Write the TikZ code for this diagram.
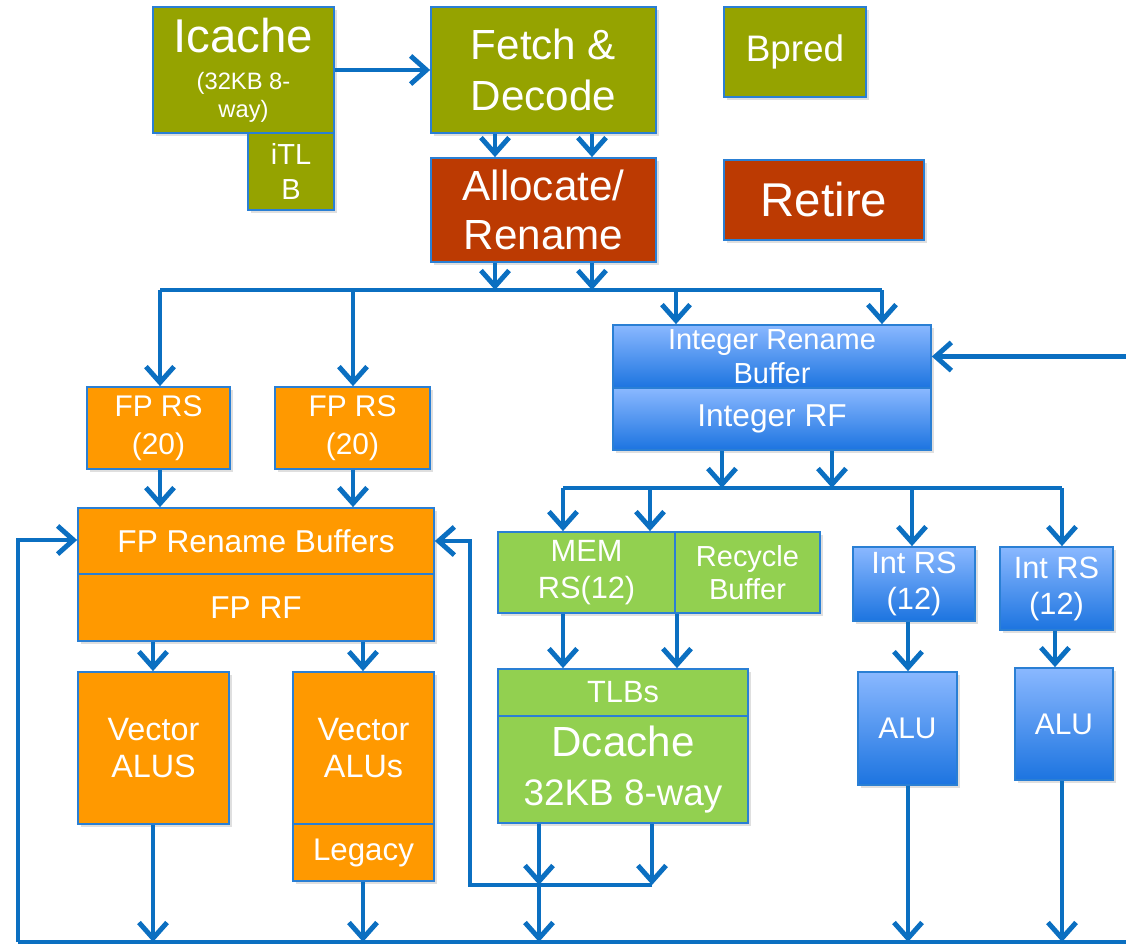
\documentclass[tikz,border=0pt]{standalone}
\usepackage{fontspec}
\setmainfont{Liberation Sans}
\usetikzlibrary{arrows.meta,shadows}
\definecolor{fetchgreen}{HTML}{95A300}
\definecolor{retirered}{HTML}{BC3A02}
\definecolor{fporange}{HTML}{FF9900}
\definecolor{memgreen}{HTML}{92D050}
\definecolor{inttop}{HTML}{8AB8FF}
\definecolor{intbot}{HTML}{1C74E0}
\definecolor{edgeblue}{HTML}{2A7FD4}
\definecolor{wireblue}{HTML}{0B6FC1}

\begin{document}
\begin{tikzpicture}[x=0.02cm,y=-0.02cm]
		\tikzset{unit/.style={draw=edgeblue,line width=1pt,fill=#1,text=white,align=center,inner sep=0pt,drop shadow={opacity=0.25,shadow xshift=1.5pt,shadow yshift=-1.5pt}}}
		\tikzset{intunit/.style={unit=intbot,top color=inttop,bottom color=intbot}}
		\tikzset{wire/.style={draw=wireblue,line width=2.8pt}}
		\tikzset{flow/.style={wire,-{Straight Barb[length=9pt,width=16pt]}}}
		\useasboundingbox (0,0) rectangle (1126,944);
		
		% front end
		\node [unit=fetchgreen,minimum width=3.62cm,minimum height=2.52cm,font=\fontsize{13.5}{16}\selectfont] (icache) at (243.5,70) {{\fontsize{27}{30}\selectfont Icache}\\[5pt](32KB 8-\\way)};
		\node [unit=fetchgreen,minimum width=1.72cm,minimum height=1.54cm,font=\fontsize{16.5}{20}\selectfont] (itlb) at (291,171.5) {iTL\\B};
		\node [unit=fetchgreen,minimum width=4.5cm,minimum height=2.52cm,font=\fontsize{24}{29}\selectfont] (fetch) at (543.5,70) {Fetch \&\\Decode};
		\node [unit=fetchgreen,minimum width=2.84cm,minimum height=1.8cm,font=\fontsize{21}{25}\selectfont] (bpred) at (795,52) {Bpred};
		\node [unit=retirered,minimum width=4.5cm,minimum height=2.08cm,font=\fontsize{24}{28}\selectfont] (alloc) at (543.5,210) {Allocate/\\Rename};
		\node [unit=retirered,minimum width=4cm,minimum height=1.6cm,font=\fontsize{27}{30}\selectfont] (retire) at (824,200) {Retire};
		
		% integer side
		\node [intunit,minimum width=6.36cm,minimum height=1.26cm,font=\fontsize{16.5}{19}\selectfont] (irb) at (772,356.5) {Integer Rename\\Buffer};
		\node [intunit,minimum width=6.36cm,minimum height=1.24cm,font=\fontsize{18}{21}\selectfont] (irf) at (772,419) {Integer RF};
		\node [intunit,minimum width=2.44cm,minimum height=1.48cm,font=\fontsize{17.5}{20.5}\selectfont] (intrs1) at (914,584) {Int RS\\(12)};
		\node [intunit,minimum width=2.26cm,minimum height=1.66cm,font=\fontsize{17.5}{20.5}\selectfont] (intrs2) at (1056.5,588.5) {Int RS\\(12)};
		\node [intunit,minimum width=1.98cm,minimum height=2.26cm,font=\fontsize{17}{20}\selectfont] (alu1) at (907.5,728.5) {ALU};
		\node [intunit,minimum width=1.96cm,minimum height=2.24cm,font=\fontsize{17}{20}\selectfont] (alu2) at (1064,724) {ALU};
		
		% memory side
		\node [unit=memgreen,minimum width=3.54cm,minimum height=1.62cm,font=\fontsize{17.5}{21.5}\selectfont] (memrs) at (586.5,572.5) {MEM\\RS(12)};
		\node [unit=memgreen,minimum width=2.9cm,minimum height=1.62cm,font=\fontsize{16.5}{19}\selectfont] (recycle) at (747.5,572.5) {Recycle\\Buffer};
		\node [unit=memgreen,minimum width=5cm,minimum height=0.94cm,font=\fontsize{17.5}{20}\selectfont] (tlbs) at (623,692.5) {TLBs};
		\node [unit=memgreen,minimum width=5cm,minimum height=2.14cm,font=\fontsize{21}{28}\selectfont] (dcache) at (623,769.5) {{\fontsize{24}{28}\selectfont Dcache}\\32KB 8-way};
		
		% fp side
		\node [unit=fporange,minimum width=2.86cm,minimum height=1.64cm,font=\fontsize{17}{22}\selectfont] (fprs1) at (158.5,428) {FP RS\\(20)};
		\node [unit=fporange,minimum width=3.1cm,minimum height=1.64cm,font=\fontsize{17}{22}\selectfont] (fprs2) at (352.5,428) {FP RS\\(20)};
		\node [unit=fporange,minimum width=7.12cm,minimum height=1.32cm,font=\fontsize{18}{21}\selectfont] (fprb) at (256,541) {FP Rename Buffers};
		\node [unit=fporange,minimum width=7.12cm,minimum height=1.34cm,font=\fontsize{18}{21}\selectfont] (fprf) at (256,607.5) {FP RF};
		\node [unit=fporange,minimum width=3.02cm,minimum height=3.04cm,font=\fontsize{18.4}{21.5}\selectfont] (valu1) at (153.5,748) {Vector\\ALUS};
		\node [unit=fporange,minimum width=2.82cm,minimum height=3.04cm,font=\fontsize{18.4}{21.5}\selectfont] (valu2) at (363.5,748) {Vector\\ALUs};
		\node [unit=fporange,minimum width=2.82cm,minimum height=1.14cm,font=\fontsize{17.8}{20}\selectfont] (legacy) at (363.5,852.5) {Legacy};
		
		% wire rows and columns
		\coordinate (bus1) at (0,290);
		\coordinate (bus2) at (0,488);
		\coordinate (floor) at (0,942);
		\coordinate (loopL) at (18,540);
		\coordinate (loopR) at (470,885);
		\coordinate (feed) at (1126,356.5);
		\foreach \n/\x in {xa/495,xb/592,xfpa/160,xfpb/353,xira/676,xirb/882,xia/722,xib/832,xma/563,xmb/650,xrs1/912,xrs2/1062,xra/908,xrb/1055,xrc/677,xda/539,xdb/652,xva/153,xvb/363}
			\coordinate (\n) at (\x,0);
		
		\draw[flow] (icache.east) -- (fetch.west);
		\foreach \c in {xa,xb} {
			\draw[flow] (fetch.south -| \c) -- (alloc.north -| \c);
			\draw[flow] (alloc.south -| \c) -- (bus1 -| \c);
		}
		\draw[wire] (bus1 -| xfpa) -- (bus1 -| xirb);
		\foreach \c in {xfpa,xfpb} {
			\draw[flow] (bus1 -| \c) -- (fprs1.north -| \c);
			\draw[flow] (fprs1.south -| \c) -- (fprb.north -| \c);
		}
		\foreach \c in {xira,xirb}
			\draw[flow] (bus1 -| \c) -- (irb.north -| \c);
		\draw[flow] (feed) -- (irb.east);
		
		\foreach \c in {xia,xib}
			\draw[flow] (irf.south -| \c) -- (bus2 -| \c);
		\draw[wire] (bus2 -| xma) -- (bus2 -| xrs2);
		\foreach \c in {xma,xmb}
			\draw[flow] (bus2 -| \c) -- (memrs.north -| \c);
		\draw[flow] (bus2 -| xrs1) -- (intrs1.north -| xrs1);
		\draw[flow] (bus2 -| xrs2) -- (intrs2.north -| xrs2);
		\draw[flow] (intrs1.south -| xra) -- (alu1.north -| xra);
		\draw[flow] (intrs2.south -| xrb) -- (alu2.north -| xrb);
		\draw[flow] (alu1.south -| xra) -- (floor -| xra);
		\draw[flow] (alu2.south -| xrs2) -- (floor -| xrs2);
		
		\draw[flow] (memrs.south -| xma) -- (tlbs.north -| xma);
		\draw[flow] (recycle.south -| xrc) -- (tlbs.north -| xrc);
		\draw[flow] (dcache.south -| xda) -- (loopR -| xda);
		\draw[flow] (loopR -| xda) -- (floor -| xda);
		\draw[flow] (dcache.south -| xdb) -- (loopR -| xdb);
		\draw[flow] (loopR -| xdb) -- (loopR) -- (loopR |- fprb.east) -- (fprb.east);
		
		\draw[flow] (fprf.south -| xva) -- (valu1.north -| xva);
		\draw[flow] (fprf.south -| xvb) -- (valu2.north -| xvb);
		\draw[flow] (valu1.south -| xva) -- (floor -| xva);
		\draw[flow] (legacy.south -| xvb) -- (floor -| xvb);
		\draw[wire] (floor -| loopL) -- (floor -| feed);
		\draw[flow] (floor -| loopL) -- (loopL) -- (loopL -| fprb.west);
\end{tikzpicture}
\end{document}
